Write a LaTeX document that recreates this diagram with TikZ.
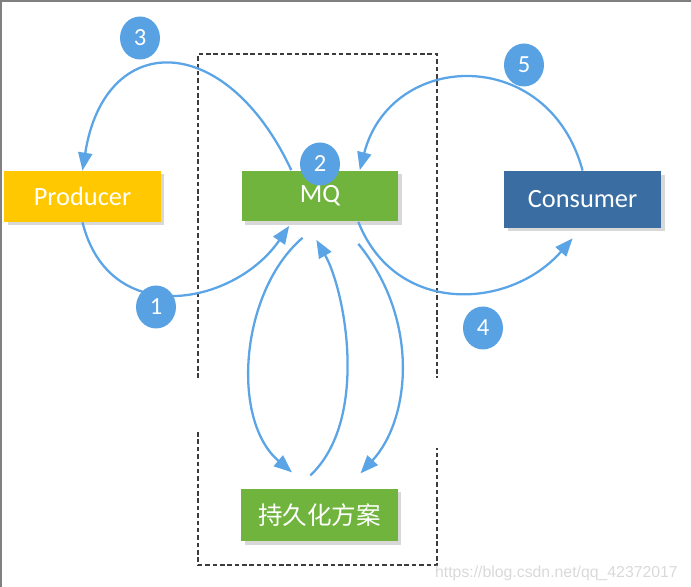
\documentclass[tikz,border=0pt]{standalone}
\usepackage{fontspec}
\setmainfont{Carlito}
\newfontfamily\cjk{Noto Sans CJK SC}
\newfontfamily\markfont{Liberation Sans}
\usetikzlibrary{arrows.meta,shadows,shapes.geometric}

\definecolor{prodyellow}{RGB}{255,200,0}
\definecolor{mqgreen}{RGB}{112,180,62}
\definecolor{consblue}{RGB}{58,110,163}
\definecolor{flowblue}{RGB}{91,165,230}
\definecolor{numblue}{RGB}{88,162,228}
\definecolor{dashgray}{RGB}{60,60,60}

\begin{document}
\begin{tikzpicture}[x=0.02cm,y=-0.02cm,
  box/.style={minimum width=3.14cm,minimum height=1.02cm,inner sep=0pt,text=white,
    font=\fontsize{15}{18}\selectfont,
    drop shadow={shadow xshift=0.07cm,shadow yshift=-0.07cm,fill=black!30}},
  flow/.style={draw=flowblue,line width=1.3pt,-{Triangle[length=0.36cm,width=0.28cm]}},
  num/.style={ellipse,fill=numblue,text=white,minimum width=0.8cm,minimum height=0.86cm,
    inner sep=0pt,font=\fontsize{14}{16}\selectfont},
  zone/.style={draw=dashgray,line width=1.1pt,dash pattern=on 2.6pt off 1.6pt}]

\useasboundingbox (0,0) rectangle (691,587);
% frame
\draw[gray,line width=1.2pt] (1,587) -- (1,1) -- (691,1);

% dashed zone round the MQ
\draw[zone] (198,378) -- (198,54) -- (437,54) -- (437,378);
\draw[zone] (198,432) -- (198,565) -- (437,565) -- (437,448);

% boxes
\node[box,fill=prodyellow] (prod) at (82.5,196.5) {Producer};
\node[box,fill=mqgreen] (mq) at (320,196) {MQ};
\node[box,fill=consblue,minimum height=1.14cm] (cons) at (582.6,199.5) {Consumer};
\node[box,fill=mqgreen,minimum height=1.05cm,font=\cjk\fontsize{14}{17}\selectfont] (store) at (319.5,515) {持久化方案};

% send and receive
\draw[flow] (prod.south) .. controls +(27,108) and +(-54,79) .. ([yshift=-0.08cm]mq.220);
\draw[flow] (mq.138) .. controls +(-66,-141) and +(22,-141) .. (prod.north);
\draw[flow] (mq.-34) .. controls +(37,94) and +(-63,72) .. ([yshift=-0.2cm]cons.251);
\draw[flow] (cons.north) .. controls +(-34,-126) and +(31,-120) .. (mq.33);

% persistence
\draw[flow] ([yshift=-0.32cm]mq.236) .. controls +(-62,53) and +(-62,-53) .. ([yshift=0.32cm]store.136);
\draw[flow] ([yshift=0.26cm]store.109) .. controls +(59.5,-56) and +(28.6,50) .. ([yshift=-0.36cm]mq.262);
\draw[flow] ([yshift=-0.44cm]mq.-34) .. controls +(62,76) and +(50,-54) .. ([yshift=0.3cm]store.33);

% step numbers
\node[num] (n1) at (156,307) {1};
\node[num] (n2) at (320,164) {2};
\node[num] (n3) at (140,38) {3};
\node[num] (n4) at (483,328) {4};
\node[num] (n5) at (524,65) {5};

% watermark
\node[anchor=east,text=black!15,font=\markfont\fontsize{9}{11}\selectfont] (mark) at (684,573) {https://blog.csdn.net/qq\_42372017};
\end{tikzpicture}
\end{document}
